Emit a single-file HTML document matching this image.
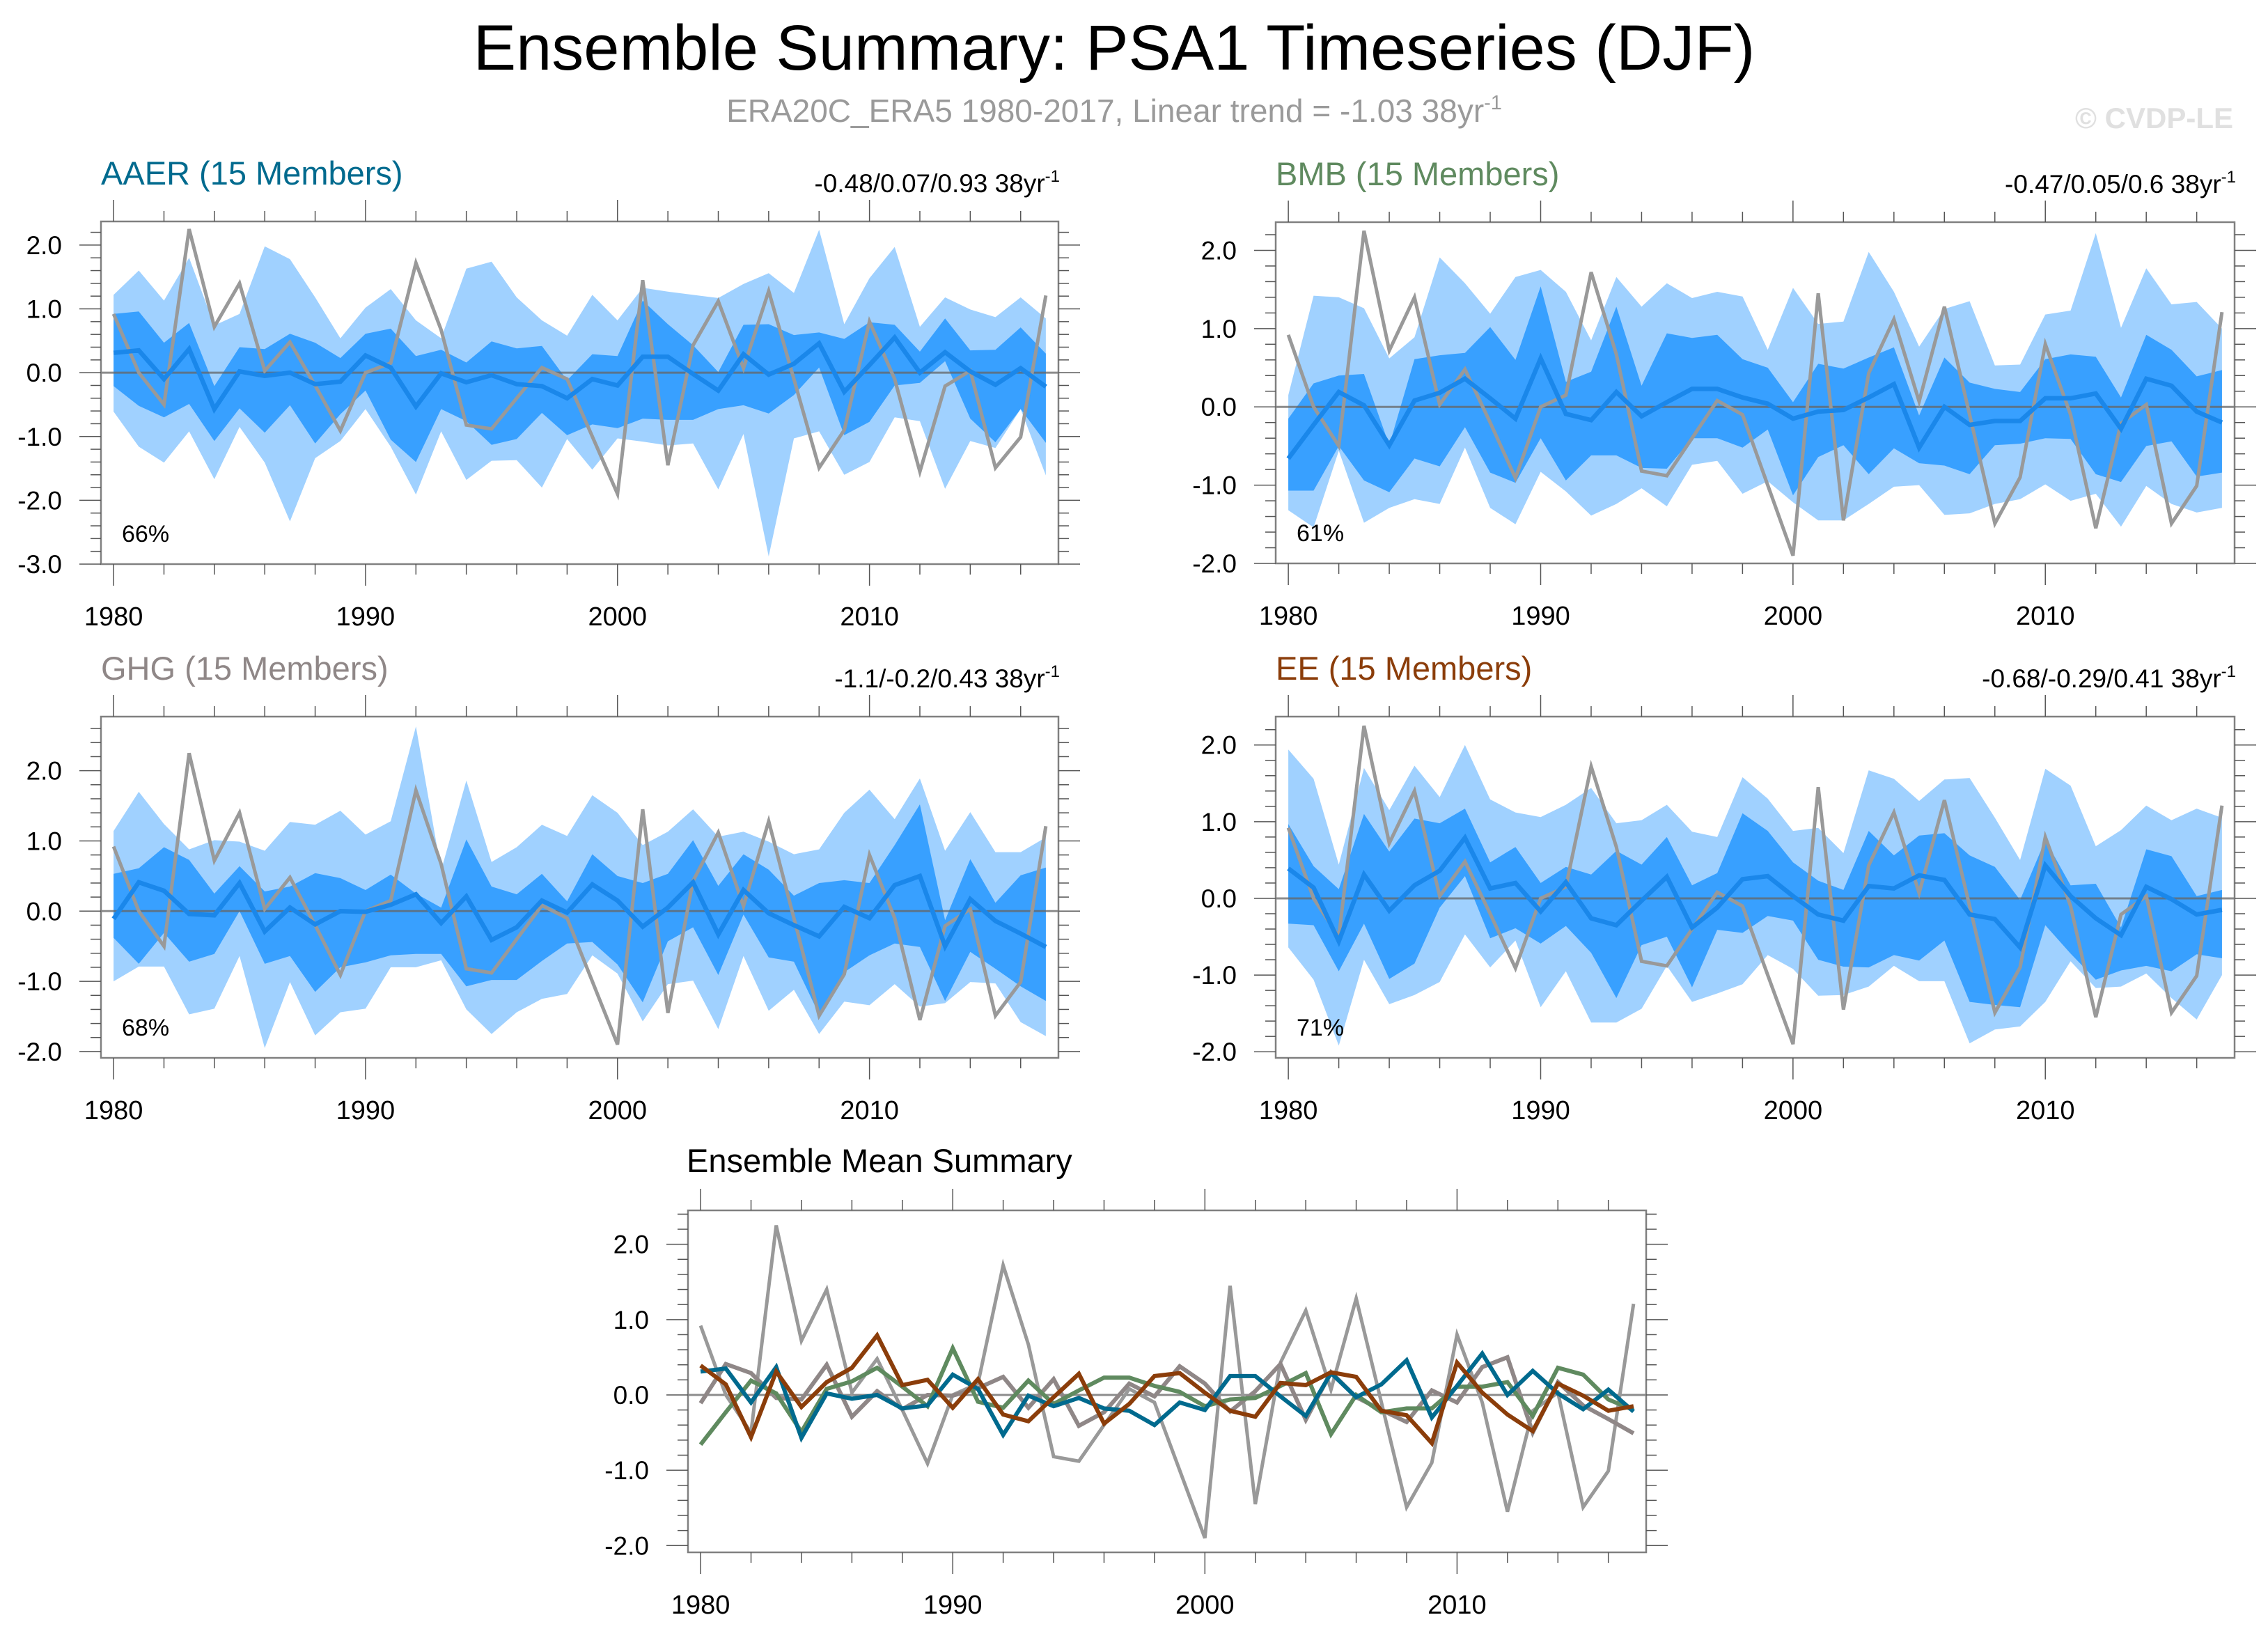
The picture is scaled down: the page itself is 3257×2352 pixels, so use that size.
<!DOCTYPE html>
<html><head><meta charset="utf-8"><title>Ensemble Summary: PSA1 Timeseries (DJF)</title>
<style>
html,body{margin:0;padding:0;background:#fff;}
svg{display:block;font-family:"Liberation Sans",Arial,sans-serif;}
</style></head>
<body>
<svg id="fig" xmlns="http://www.w3.org/2000/svg" width="3257" height="2352" viewBox="0 0 3257 2352">
<rect x="0" y="0" width="3257" height="2352" fill="#fff"/>
<text x="1600" y="100" font-size="92" text-anchor="middle" fill="#000">Ensemble Summary: PSA1 Timeseries (DJF)</text>
<text x="1600" y="175" font-size="46" text-anchor="middle" fill="#9a9a9a">ERA20C_ERA5 1980-2017, Linear trend = -1.03 38yr<tspan font-size="29" dy="-18">-1</tspan></text>
<text x="3207" y="184" font-size="42" font-weight="bold" text-anchor="end" fill="#e0e0e0">© CVDP-LE</text>
</svg>
<script>
// ---- data ----
const firstYear = 1980;
const years = [1980,1981,1982,1983,1984,1985,1986,1987,1988,1989,1990,1991,1992,1993,1994,1995,1996,1997,1998,1999,2000,2001,2002,2003,2004,2005,2006,2007,2008,2009,2010,2011,2012,2013,2014,2015,2016,2017];
const obs = [0.92,0.0,-0.5,2.25,0.72,1.4,0.03,0.48,-0.2,-0.91,0.0,0.15,1.72,0.67,-0.82,-0.88,-0.4,0.08,-0.1,-1.0,-1.9,1.45,-1.45,0.43,1.12,0.07,1.28,-0.1,-1.49,-0.9,0.8,-0.1,-1.55,-0.21,0.03,-1.49,-1.01,1.21];

const aaerHi = [1.22,1.60,1.13,1.80,0.74,0.92,1.98,1.78,1.18,0.54,1.02,1.31,0.82,0.54,1.63,1.74,1.18,0.82,0.58,1.22,0.82,1.33,1.27,1.22,1.17,1.39,1.56,1.25,2.24,0.76,1.48,1.97,0.72,1.18,0.99,0.87,1.18,0.85];
const aaerQ3 = [0.92,0.96,0.47,0.78,-0.21,0.40,0.37,0.61,0.47,0.23,0.61,0.69,0.26,0.36,0.16,0.49,0.38,0.42,-0.12,0.29,0.26,1.13,0.76,0.43,0.01,0.75,0.76,0.59,0.63,0.53,0.79,0.75,0.33,0.85,0.35,0.36,0.71,0.30];
const aaerMean = [0.31,0.35,-0.10,0.37,-0.57,0.02,-0.05,0.00,-0.18,-0.14,0.27,0.08,-0.53,-0.01,-0.15,-0.04,-0.18,-0.21,-0.40,-0.10,-0.20,0.25,0.25,-0.02,-0.28,0.29,-0.03,0.14,0.46,-0.30,0.12,0.55,0.00,0.32,0.02,-0.19,0.07,-0.22];
const aaerQ1 = [-0.21,-0.52,-0.70,-0.49,-1.07,-0.56,-0.94,-0.51,-1.11,-0.65,-0.28,-1.05,-1.40,-0.57,-0.76,-1.13,-1.04,-0.63,-0.98,-0.81,-0.87,-0.72,-0.74,-0.74,-0.57,-0.51,-0.64,-0.35,0.08,-0.98,-0.77,-0.20,-0.16,0.18,-0.72,-1.09,-0.57,-1.10];
const aaerLo = [-0.61,-1.16,-1.41,-0.92,-1.67,-0.85,-1.41,-2.33,-1.34,-1.07,-0.57,-1.16,-1.91,-0.92,-1.68,-1.38,-1.37,-1.80,-1.04,-1.52,-1.03,-1.08,-1.14,-1.11,-1.83,-0.96,-2.88,-1.03,-0.92,-1.60,-1.40,-0.70,-0.76,-1.82,-1.07,-1.18,-0.57,-1.61];

const bmbHi = [0.15,1.42,1.40,1.26,0.62,0.89,1.91,1.58,1.19,1.66,1.75,1.47,0.85,1.66,1.28,1.58,1.39,1.47,1.41,0.73,1.52,1.06,1.09,1.98,1.47,0.77,1.25,1.35,0.53,0.54,1.18,1.23,2.22,1.01,1.77,1.31,1.34,1.00];
const bmbQ3 = [-0.15,0.30,0.40,0.42,-0.49,0.61,0.66,0.69,1.02,0.60,1.54,0.32,0.45,1.28,0.27,0.94,0.88,0.92,0.61,0.50,0.06,0.55,0.49,0.63,0.76,-0.11,0.63,0.31,0.23,0.19,0.61,0.67,0.64,0.12,0.92,0.73,0.39,0.47];
const bmbMean = [-0.66,-0.23,0.19,0.02,-0.49,0.08,0.18,0.36,0.11,-0.15,0.62,-0.09,-0.17,0.19,-0.12,0.06,0.23,0.23,0.12,0.04,-0.15,-0.06,-0.04,0.12,0.29,-0.52,0.00,-0.23,-0.18,-0.18,0.11,0.11,0.17,-0.28,0.36,0.27,-0.06,-0.20];
const bmbQ1 = [-1.07,-1.07,-0.50,-0.94,-1.09,-0.66,-0.76,-0.26,-0.84,-0.97,-0.40,-0.94,-0.62,-0.62,-0.78,-0.79,-0.40,-0.40,-0.52,-0.29,-1.13,-0.64,-0.49,-0.86,-0.53,-0.72,-0.75,-0.86,-0.49,-0.47,-0.40,-0.41,-0.86,-0.96,-0.50,-0.44,-0.89,-0.84];
const bmbLo = [-1.32,-1.54,-0.56,-1.48,-1.29,-1.18,-1.24,-0.52,-1.29,-1.50,-0.83,-1.08,-1.39,-1.24,-1.04,-1.27,-0.74,-0.69,-1.11,-0.95,-1.22,-1.45,-1.45,-1.24,-1.02,-1.00,-1.38,-1.36,-1.24,-1.18,-0.99,-1.20,-1.11,-1.53,-1.01,-1.24,-1.35,-1.29];

const ghgHi = [1.14,1.70,1.24,0.88,1.01,0.99,0.86,1.27,1.23,1.43,1.09,1.28,2.63,0.58,1.86,0.70,0.91,1.23,1.07,1.65,1.40,0.94,1.13,1.45,1.06,1.13,0.99,0.81,0.88,1.40,1.73,1.31,1.89,0.86,1.41,0.84,0.84,1.05];
const ghgQ3 = [0.53,0.61,0.91,0.73,0.25,0.64,0.28,0.35,0.54,0.47,0.30,0.52,0.25,0.05,1.02,0.35,0.24,0.53,0.14,0.81,0.50,0.40,0.53,1.01,0.36,0.81,0.59,0.22,0.40,0.44,0.40,0.94,1.52,-0.13,0.74,0.12,0.51,0.62];
const ghgMean = [-0.11,0.41,0.29,-0.04,-0.06,0.40,-0.29,0.05,-0.19,0.00,-0.01,0.09,0.24,-0.17,0.21,-0.41,-0.23,0.15,-0.02,0.38,0.15,-0.22,0.05,0.41,-0.33,0.30,-0.03,-0.20,-0.36,0.06,-0.10,0.37,0.50,-0.50,0.17,-0.14,-0.32,-0.51];
const ghgQ1 = [-0.38,-0.75,-0.31,-0.72,-0.61,0.00,-0.75,-0.64,-1.15,-0.80,-0.73,-0.63,-0.61,-0.61,-1.07,-0.98,-0.98,-0.71,-0.46,-0.44,-0.76,-1.30,-0.43,-0.23,-0.91,-0.05,-0.66,-0.72,-1.47,-0.87,-0.63,-0.46,-0.51,-1.28,-0.58,-0.82,-1.07,-1.28];
const ghgLo = [-1.00,-0.79,-0.79,-1.47,-1.39,-0.64,-1.95,-1.01,-1.77,-1.44,-1.39,-0.80,-0.80,-0.70,-1.40,-1.75,-1.44,-1.25,-1.18,-0.63,-0.89,-1.57,-1.04,-0.99,-1.68,-0.64,-1.42,-1.12,-1.75,-1.29,-1.34,-1.04,-1.36,-1.31,-1.01,-1.03,-1.58,-1.78];

const eeHi = [1.94,1.56,0.44,1.70,1.15,1.73,1.32,2.00,1.29,1.12,1.06,1.22,1.44,0.98,1.02,1.22,0.87,0.80,1.58,1.30,0.88,0.92,0.59,1.67,1.56,1.27,1.55,1.57,1.05,0.50,1.69,1.47,0.68,0.89,1.21,1.02,1.17,1.05];
const eeQ3 = [0.97,0.42,0.12,1.10,0.61,1.04,0.98,1.17,0.47,0.67,0.20,0.41,0.31,0.62,0.44,0.80,0.17,0.33,1.11,0.88,0.47,0.23,0.11,0.88,0.56,0.82,0.85,0.56,0.41,-0.02,0.76,0.17,0.19,-0.38,0.64,0.55,0.03,0.11];
const eeMean = [0.39,0.14,-0.56,0.31,-0.16,0.17,0.36,0.79,0.13,0.20,-0.17,0.21,-0.26,-0.35,-0.03,0.28,-0.38,-0.12,0.25,0.29,0.03,-0.21,-0.29,0.16,0.13,0.30,0.24,-0.21,-0.27,-0.64,0.43,0.03,-0.26,-0.48,0.15,-0.01,-0.21,-0.15];
const eeQ1 = [-0.33,-0.35,-0.95,-0.33,-1.05,-0.85,-0.12,0.29,-0.52,-0.39,-0.59,-0.36,-0.71,-1.30,-0.61,-0.50,-1.16,-0.41,-0.45,-0.23,-0.29,-0.80,-0.89,-0.90,-0.74,-0.81,-0.55,-1.35,-1.39,-1.42,-0.35,-0.72,-1.06,-0.94,-0.88,-0.95,-0.73,-0.78];
const eeLo = [-0.64,-1.06,-1.92,-0.80,-1.38,-1.26,-1.09,-0.47,-0.90,-0.55,-1.42,-0.95,-1.62,-1.62,-1.44,-0.88,-1.35,-1.24,-1.12,-0.74,-0.92,-1.27,-1.26,-1.15,-0.88,-1.08,-1.08,-1.89,-1.71,-1.67,-1.35,-0.82,-1.17,-1.15,-0.98,-1.30,-1.58,-1.00];

const panelTitles = ["AAER (15 Members)","BMB (15 Members)","GHG (15 Members)","EE (15 Members)"];
const trendTexts = ["-0.48/0.07/0.93 38yr","-0.47/0.05/0.6 38yr","-1.1/-0.2/0.43 38yr","-0.68/-0.29/0.41 38yr"];
const pctTexts = ["66%","61%","68%","71%"];
const yTicksA = [-3,-2,-1,0,1,2];
const yTicksB = [-2,-1,0,1,2];
const xTickYears = [1980,1990,2000,2010];

// ---- drawing ----
const NS = "http://www.w3.org/2000/svg";
const svg = document.getElementById("fig");
function mk(tag, attrs, parent){
  const e = document.createElementNS(NS, tag);
  for (const k in attrs) e.setAttribute(k, attrs[k]);
  (parent || svg).appendChild(e);
  return e;
}
function makeAxes(L, R, T, B, yMin, yMax){
  const x0 = 1979.5, x1 = 2017.5;
  return {
    x: yr => L + (yr - x0) / (x1 - x0) * (R - L),
    y: v => B - (v - yMin) / (yMax - yMin) * (B - T)
  };
}
function poly(xs, ys, ax){ return xs.map((yr,i)=> ax.x(yr).toFixed(1)+","+ax.y(ys[i]).toFixed(1)).join(" "); }

function drawFrame(g, L, R, T, B, yMin, yMax, ax, yTicks){
  const z = mk("line",{x1:L,x2:R,y1:ax.y(0),y2:ax.y(0),stroke:"#666","stroke-width":3,"stroke-opacity":0.75},g);
  
  
  const b = mk("rect",{x:L,y:T,width:R-L,height:B-T,fill:"none",stroke:"#808080","stroke-width":2.5},g);
  
  
  for (let yr = 1980; yr <= 2017; yr += 2){
    const major = (yr % 10 === 0);
    const len = major ? 31 : 15;
    const xx = ax.x(yr);
    mk("line",{x1:xx,x2:xx,y1:T,y2:T-len,stroke:"#555","stroke-width":1.5},g);
    mk("line",{x1:xx,x2:xx,y1:B,y2:B+len,stroke:"#555","stroke-width":1.5},g);
  }
  for (let k = Math.ceil(yMin*5); k <= Math.floor(yMax*5); k++){
    const v = k/5;
    const major = (k % 5 === 0);
    const len = major ? 31 : 15;
    const yy = ax.y(v);
    mk("line",{x1:L,x2:L-len,y1:yy,y2:yy,stroke:"#555","stroke-width":1.5},g);
    mk("line",{x1:R,x2:R+len,y1:yy,y2:yy,stroke:"#555","stroke-width":1.5},g);
  }
  yTicks.forEach(v=>{
    const t = mk("text",{x:L-56,y:ax.y(v)+13,"font-size":37,"text-anchor":"end",fill:"#000"},g);
    t.textContent = v.toFixed(1);
    
    
  });
  xTickYears.forEach(yr=>{
    const t = mk("text",{x:ax.x(yr),y:B+88,"font-size":38,"text-anchor":"middle",fill:"#000"},g);
    t.textContent = String(yr);
    
    
  });
}

const panels = [
  {L:145,R:1520,T:318,B:810,yMin:-3.0,yMax:2.37,ticks:yTicksA,color:"#006a8e",hi:aaerHi,q3:aaerQ3,mean:aaerMean,q1:aaerQ1,lo:aaerLo,name:"aaer"},
  {L:1832,R:3209,T:319,B:809,yMin:-2.0,yMax:2.36,ticks:yTicksB,color:"#5f8a5f",hi:bmbHi,q3:bmbQ3,mean:bmbMean,q1:bmbQ1,lo:bmbLo,name:"bmb"},
  {L:145,R:1520,T:1029,B:1519,yMin:-2.09,yMax:2.77,ticks:yTicksB,color:"#8f8787",hi:ghgHi,q3:ghgQ3,mean:ghgMean,q1:ghgQ1,lo:ghgLo,name:"ghg"},
  {L:1832,R:3209,T:1029,B:1519,yMin:-2.08,yMax:2.37,ticks:yTicksB,color:"#8b3d0a",hi:eeHi,q3:eeQ3,mean:eeMean,q1:eeQ1,lo:eeLo,name:"ee"}
];

panels.forEach((p, idx)=>{
  const g = mk("g",{});
  
  
  const ax = makeAxes(p.L,p.R,p.T,p.B,p.yMin,p.yMax);
  const rev = years.slice().reverse();
  const outer = mk("polygon",{points: poly(years,p.hi,ax)+" "+poly(rev,p.lo.slice().reverse(),ax), fill:"#a0d1ff"},g);
  
  
  const inner = mk("polygon",{points: poly(years,p.q3,ax)+" "+poly(rev,p.q1.slice().reverse(),ax), fill:"#38a0ff"},g);
  
  
  drawFrame(g,p.L,p.R,p.T,p.B,p.yMin,p.yMax,ax,p.ticks);
  const o = mk("polyline",{points:poly(years,obs,ax),fill:"none",stroke:"#999","stroke-width":5,"stroke-linejoin":"miter"},g);
  
  
  const m = mk("polyline",{points:poly(years,p.mean,ax),fill:"none",stroke:"#1a87ea","stroke-width":6.5},g);
  
  
  const t = mk("text",{x:p.L,y:p.T-53,"font-size":47,fill:p.color},g);
  t.textContent = panelTitles[idx];
  
  
  const tr = mk("text",{x:p.R+2,y:p.T-42,"font-size":37,"text-anchor":"end",fill:"#000"},g);
  tr.textContent = trendTexts[idx];
  const sup = mk("tspan",{"font-size":24,dy:-15},tr);
  sup.textContent = "-1";
  
  
  const pc = mk("text",{x:p.L+30,y:p.B-32,"font-size":34,fill:"#000"},g);
  pc.textContent = pctTexts[idx];
  
  
});

(function(){
  const L=988,R=2364,T=1738,B=2229,yMin=-2.09,yMax=2.45;
  const g = mk("g",{});
  
  
  const ax = makeAxes(L,R,T,B,yMin,yMax);
  drawFrame(g,L,R,T,B,yMin,yMax,ax,yTicksB);
  const series = [
    {d:obs,c:"#999999",w:5,n:"observed-line"},
    {d:ghgMean,c:"#8f8787",w:6,n:"ghg-mean-line"},
    {d:bmbMean,c:"#5f8a5f",w:6,n:"bmb-mean-line"},
    {d:aaerMean,c:"#006a8e",w:6,n:"aaer-mean-line"},
    {d:eeMean,c:"#8b3d0a",w:6,n:"ee-mean-line"}
  ];
  series.forEach(s=>{
    const l = mk("polyline",{points:poly(years,s.d,ax),fill:"none",stroke:s.c,"stroke-width":s.w},g);
    
    
  });
  const t = mk("text",{x:986,y:1683,"font-size":47,fill:"#000"},g);
  t.textContent = "Ensemble Mean Summary";
  
  
})();
</script>
</body></html>
